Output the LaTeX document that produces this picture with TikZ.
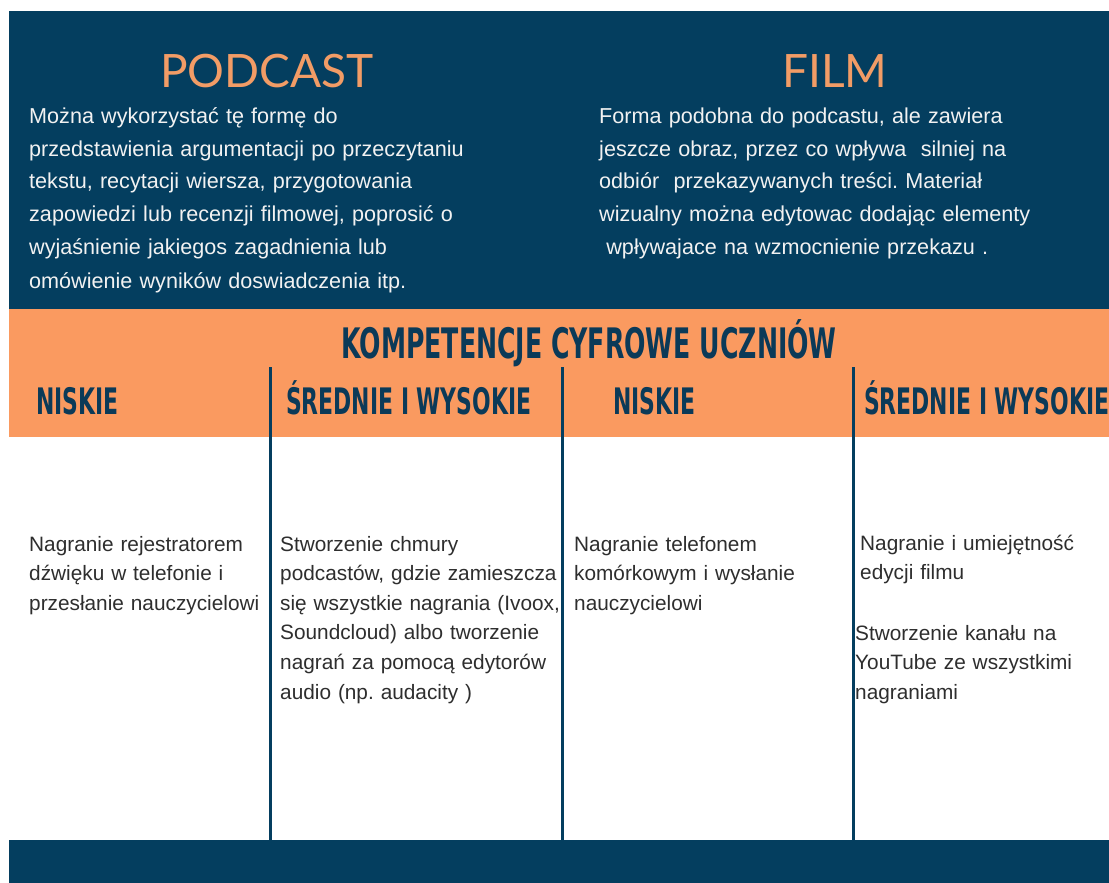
\documentclass[tikz,border=0pt]{standalone}
\usepackage{fontspec}
\setmainfont{Liberation Sans}
\newfontfamily\titlefont{Lato}
\newfontfamily\headfont[FakeStretch=0.6]{DejaVu Sans}
\definecolor{navy}{HTML}{043E5F}
\definecolor{band}{HTML}{FA9A60}
\definecolor{titleorange}{HTML}{F29C66}
\definecolor{lighttext}{HTML}{F2F2F2}
\definecolor{bodytext}{HTML}{2E2E2E}
\definecolor{headnavy}{HTML}{0B3A58}
\frenchspacing
\tikzset{
  toptext/.style={anchor=base west, inner sep=0pt, text width=520pt, align=left,
    text=lighttext, font=\frenchspacing\fontsize{21.6}{33}\selectfont},
  celltext/.style={anchor=base west, inner sep=0pt, text width=280pt, align=left,
    text=bodytext, font=\frenchspacing\fontsize{20.8}{29.6}\selectfont},
  titletext/.style={anchor=base, inner sep=0pt, text=titleorange,
    font=\titlefont\fontsize{46}{50}\selectfont},
  colhead/.style={anchor=base west, inner sep=0pt, text=headnavy,
    font=\headfont\bfseries\fontsize{36.5}{40}\selectfont},
  divider/.style={navy, line width=3pt}
}
\begin{document}
\begin{tikzpicture}[x=1pt, y=-1pt]
\useasboundingbox[fill=white] (0,0) rectangle (1109,883);
% background bands
\fill[navy] (9,11) rectangle (1109,308.5);
\fill[band] (9,308.5) rectangle (1109,437);
\fill[navy] (9,840) rectangle (1109,883);
% titles
\node[titletext] (podcast) at (267,88) {PODCAST};
\node[titletext] (film) at (835,88) {FILM};
% top descriptions
\node[toptext] (podtxt) at (29,123) {Można wykorzystać tę formę do\\
przedstawienia argumentacji po przeczytaniu\\
tekstu, recytacji wiersza, przygotowania\\
zapowiedzi lub recenzji filmowej, poprosić o\\
wyjaśnienie jakiegos zagadnienia lub\\
omówienie wyników doswiadczenia itp.};
\node[toptext] (filmtxt) at (599,123) {Forma podobna do podcastu, ale zawiera\\
jeszcze obraz, przez co wpływa\ \ silniej na\\
odbiór\ \ przekazywanych treści. Materiał\\
wizualny można edytowac dodając elementy\\
\ wpływajace na wzmocnienie przekazu .};
% band headings
\node[anchor=base, inner sep=0pt, text=headnavy,
  font=\headfont\bfseries\fontsize{42}{46}\selectfont] (komp) at (589,358) {KOMPETENCJE CYFROWE UCZNIÓW};
\node[colhead] (h1) at (36,414) {NISKIE};
\node[colhead] (h2) at (286,414) {ŚREDNIE I WYSOKIE};
\node[colhead] (h3) at (613,414) {NISKIE};
\node[colhead] (h4) at (864,414) {ŚREDNIE I WYSOKIE};
% dividers
\coordinate (d1t) at (270,367); \coordinate (d1b) at (270,840);
\coordinate (d2t) at (562,367); \coordinate (d2b) at (562,840);
\coordinate (d3t) at (853,367); \coordinate (d3b) at (853,840);
\draw[divider] (d1t) -- (d1b);
\draw[divider] (d2t) -- (d2b);
\draw[divider] (d3t) -- (d3b);
% cells
\node[celltext] (c1) at (29,551) {Nagranie rejestratorem\\
dźwięku w telefonie i\\
przesłanie nauczycielowi};
\node[celltext] (c2) at (280,551) {Stworzenie chmury\\
podcastów, gdzie zamieszcza\\
się wszystkie nagrania (Ivoox,\\
Soundcloud) albo tworzenie\\
nagrań za pomocą edytorów\\
audio (np. audacity )};
\node[celltext] (c3) at (574,551) {Nagranie telefonem\\
komórkowym i wysłanie\\
nauczycielowi};
\node[celltext] (c4a) at (860,550) {Nagranie i umiejętność\\
edycji filmu};
\node[celltext] (c4b) at (855,640) {Stworzenie kanału na\\
YouTube ze wszystkimi\\
nagraniami};
\end{tikzpicture}
\end{document}
